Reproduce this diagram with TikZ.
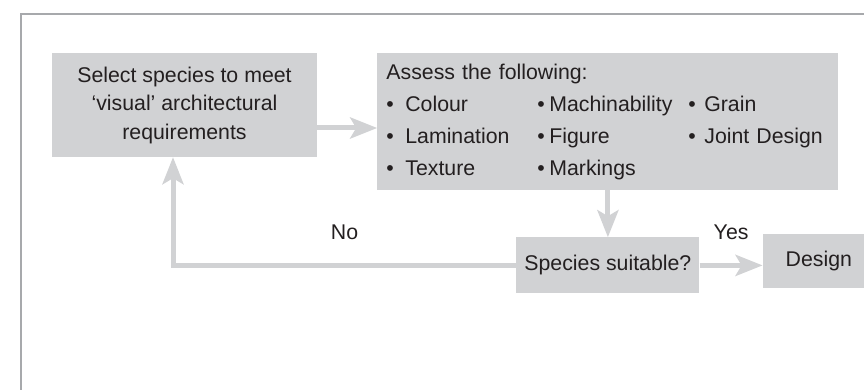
\documentclass[tikz,border=0pt]{standalone}
\usepackage{fontspec}
\setmainfont{Liberation Sans}
\usetikzlibrary{arrows.meta,positioning}
\definecolor{boxgray}{HTML}{D1D2D4}
\definecolor{framegray}{HTML}{A7A9AC}
\definecolor{inkgray}{HTML}{231F20}
\newcommand{\bitem}[3]{\makebox[#1][l]{\textbullet\hspace{#2}#3}}

\begin{document}
\begin{tikzpicture}[x=1pt, y=-1pt,
    box/.style={fill=boxgray, text=inkgray, inner sep=0pt, font=\fontsize{21.3}{28.5}\selectfont},
    lbl/.style={text=inkgray, inner sep=0pt, font=\fontsize{21.3}{25}\selectfont},
    arr/.style={-{Stealth[length=27pt, width=21pt, inset=6pt]}, line width=5pt, draw=boxgray},
    frame/.style={draw=framegray, line width=2pt}
]
\useasboundingbox (0,0) rectangle (864,390);
\clip (0,0) rectangle (864,390);
\draw[frame] (21,391) -- (21,14) -- (865,14);
\node[box, align=center, minimum width=265pt, minimum height=104pt] (select) at (184.5,105) {Select species to meet\\ ‘visual’ architectural\\ requirements};
\node[box, right=60pt of select.north east, anchor=north west, align=left, text width=443pt, inner xsep=9pt, minimum height=137pt, font=\fontsize{21.3}{32}\selectfont] (assess) {Assess the following:\\
  \bitem{151pt}{11.5pt}{Colour}\bitem{151pt}{4.5pt}{Machinability}\textbullet\hspace{8.5pt}Grain\\
  \bitem{151pt}{11.5pt}{Lamination}\bitem{151pt}{4.5pt}{Figure}\textbullet\hspace{8.5pt}Joint Design\\
  \bitem{151pt}{11.5pt}{Texture}\bitem{151pt}{4.5pt}{Markings}};
\node[box, below=47pt of assess, minimum width=183pt, minimum height=56pt] (species) {Species suitable?};
\node[box, right=63pt of species, yshift=4pt, minimum width=112pt, minimum height=54pt] (design) {Design};
\coordinate (selout) at ([yshift=-23pt]select.east);
\coordinate (noturn) at ([xshift=-11.5pt]select.south);
\draw[arr] (selout) -- (selout -| assess.west);
\draw[arr] (assess.south) -- (species.north);
\draw[arr] (species.east) -- node[lbl, above=23pt] {Yes} (species.east -| design.west);
\draw[arr] (species.west) -- node[lbl, above=23pt] {No} (species.west -| noturn) -- (noturn);
\end{tikzpicture}
\end{document}
